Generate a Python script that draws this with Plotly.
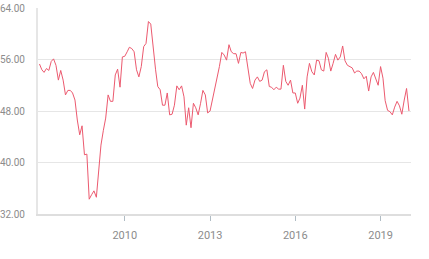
import plotly.graph_objects as go
import pandas as pd

start_month = "2007-01-01"
n_months = 157
values = [
    55.3, 54.4, 54.0, 54.6, 54.3, 55.7, 56.1, 55.1, 52.8, 54.3,
    52.8, 50.5, 51.2, 51.2, 50.8, 49.7, 46.6, 44.3, 45.7, 41.2,
    41.3, 34.3, 35.0, 35.6, 34.6, 38.3, 42.7, 45.0, 46.9, 50.5,
    49.5, 49.5, 53.6, 54.5, 51.7, 56.4, 56.5, 57.2, 57.9, 57.7,
    57.2, 54.4, 53.3, 54.9, 58.0, 58.5, 61.9, 61.5, 57.5, 54.4,
    51.8, 51.3, 48.9, 48.9, 50.8, 47.4, 47.5, 48.9, 51.9, 51.3,
    51.9, 50.2, 45.8, 48.5, 45.4, 49.2, 48.5, 47.4, 49.2, 51.2,
    50.5, 47.7, 48.0, 49.7, 51.3, 52.8, 54.9, 57.1, 56.7, 55.9,
    58.3, 57.2, 56.9, 56.9, 55.4, 57.1, 57.0, 57.2, 54.9, 52.3,
    51.5, 52.8, 53.3, 52.6, 52.8, 54.1, 54.4, 51.8, 51.7, 51.3,
    51.7, 51.4, 51.4, 55.1, 52.6, 52.0, 52.8, 50.8, 50.8, 49.2,
    50.0, 52.0, 48.3, 53.3, 55.4, 54.1, 53.6, 55.9, 55.8, 54.4,
    54.2, 57.1, 56.2, 54.2, 55.4, 56.8, 55.9, 56.4, 58.1, 55.8,
    55.1, 54.9, 54.7, 53.9, 54.2, 54.2, 53.8, 53.0, 53.4, 51.1,
    53.3, 54.0, 52.8, 52.0, 54.9, 53.1, 49.6, 48.1, 47.9, 47.4,
    48.6, 49.5, 48.8, 47.5, 49.7, 51.5, 48.0,
]
dates = pd.date_range(start_month, periods=n_months, freq="MS")
y_ticks = [32, 40, 48, 56, 64]
x_ticks = ["2010-01-01", "2013-01-01", "2016-01-01", "2019-01-01"]
x_tick_labels = ["2010", "2013", "2016", "2019"]

fig = go.Figure(go.Scatter(
    x=dates, y=values, mode="lines",
    line=dict(color="#ec5a6f", width=1),
    hoverinfo="skip",
))

fig.update_layout(
    width=429, height=259,
    margin=dict(l=38, r=18, t=8, b=45),
    paper_bgcolor="white", plot_bgcolor="white",
    showlegend=False,
    font=dict(family="Roboto", size=10, color="#8c8c8c"),
)
fig.update_yaxes(
    range=[32, 64], tickvals=y_ticks, tickformat=".2f",
    showgrid=True, gridcolor="#e6e6e6", gridwidth=1,
    showline=True, linecolor="#e6e6e6", linewidth=2,
    zeroline=False, ticks="", ticklabelstandoff=9,
    automargin=False,
)
fig.update_xaxes(
    range=["2006-12-13", "2020-01-27"],
    tickvals=x_ticks, ticktext=x_tick_labels,
    showgrid=False, showline=True, linecolor="#dedede", linewidth=2,
    ticks="outside", ticklen=5, tickcolor="#b0bcc4", tickwidth=1,
    zeroline=False, ticklabelstandoff=5, automargin=False,
    tickfont=dict(size=11),
)

fig.write_html("out.html")
